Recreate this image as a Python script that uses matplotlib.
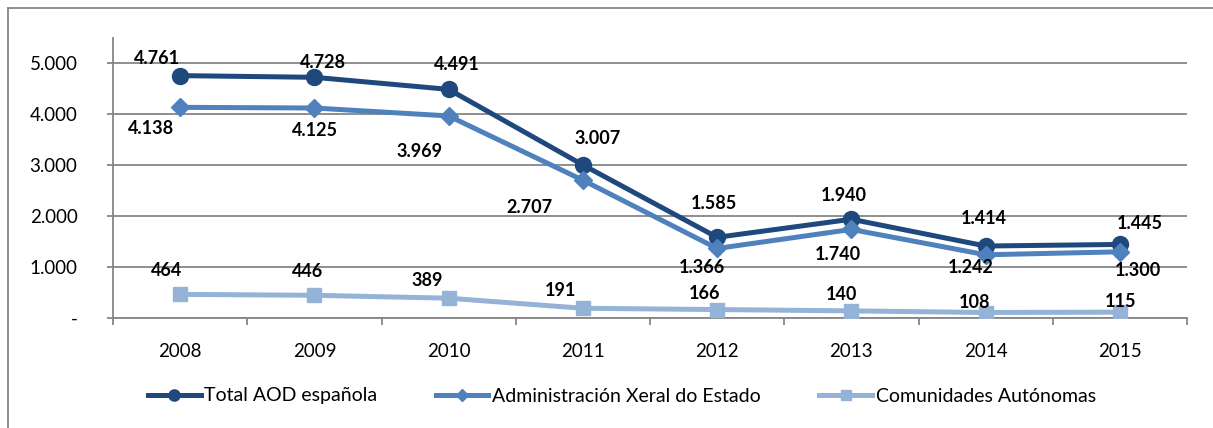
import matplotlib
matplotlib.use("Agg")
import matplotlib.pyplot as plt
from matplotlib.lines import Line2D

plt.rcParams['font.family'] = ['Lato', 'DejaVu Sans']

years = ["2008", "2009", "2010", "2011", "2012", "2013", "2014", "2015"]
total = [4761, 4728, 4491, 3007, 1585, 1940, 1414, 1445]
admin = [4138, 4125, 3969, 2707, 1366, 1740, 1242, 1300]
ccaa = [464, 446, 389, 191, 166, 140, 108, 115]

names = ["Total AOD española", "Administración Xeral do Estado", "Comunidades Autónomas"]
colors = ["#1F497D", "#4F81BD", "#95B3D7"]
markers = ["o", "D", "s"]
msizes = [11.5, 9, 10]

# label offsets in pixels (dx, dy)
off_total = [(-23, 17), (9, 15), (8, 25), (15, 26), (-3, 34), (-8, 24), (-2, 28), (20, 21)]
off_admin = [(-29, -21), (1, -22), (-29, -36), (-53, -27), (-15, -19), (-13, -25), (-15, -13), (18, -19)]
off_ccaa = [(-14, 24), (-7, 24), (-21, 18), (-22, 18), (-13, 16), (-10, 16), (-11, 10), (1, 11)]

def fmt(v):
    return f"{v:,}".replace(",", ".")

W, H = 1213, 428
fig = plt.figure(figsize=(W / 100, H / 100), dpi=100)
ax = fig.add_axes([113 / W, 1 - 318 / H, (1187 - 113) / W, (318 - 38) / H])

x = list(range(len(years)))
series = [total, admin, ccaa]
offsets = [off_total, off_admin, off_ccaa]
for s, c, m, ms, offs, n in zip(series, colors, markers, msizes, offsets, names):
    ax.plot(x, s, color=c, lw=3.6, marker=m, ms=ms, mec=c, mfc=c, label=n, zorder=3,
            solid_joinstyle='round')
    for xi, v, (dx, dy) in zip(x, s, offs):
        ax.annotate(fmt(v), (xi, v), xytext=(dx, dy), textcoords='offset pixels',
                    ha='center', va='center', fontsize=13, fontweight='bold', color='black',
                    zorder=4)

grid_c = "#868686"
ax.set_xlim(-0.5, len(years) - 0.5)
ax.set_ylim(0, 5500)
yt = [0, 1000, 2000, 3000, 4000, 5000]
ax.set_yticks(yt)
ax.set_yticklabels(["-" if v == 0 else fmt(v) for v in yt])
ax.yaxis.grid(True, color=grid_c, lw=1.3)
ax.set_axisbelow(True)
ax.set_xticks(x)
ax.set_xticklabels(years)
ax.set_xticks([i - 0.5 for i in range(len(years) + 1)], minor=True)
ax.tick_params(axis='x', which='major', length=0, pad=18, labelsize=13.5, colors='black')
ax.tick_params(axis='x', which='minor', length=5, width=1.3, color=grid_c)
ax.tick_params(axis='y', which='major', length=4.5, width=1.3, color=grid_c, pad=21, labelsize=13.5)
for sp in ['top', 'right']:
    ax.spines[sp].set_visible(False)
for sp in ['left', 'bottom']:
    ax.spines[sp].set_color(grid_c)
    ax.spines[sp].set_linewidth(1.3)

handles = [Line2D([], [], color=c, lw=3.6, marker=m, ms=ms * 0.7, mec=c, mfc=c)
           for c, m, ms in zip(colors, markers, msizes)]
fig.legend(handles, names, loc='center', bbox_to_anchor=(622 / W, 1 - 396 / H), ncol=3,
           frameon=False, fontsize=14, handlelength=2.7, handletextpad=0.2, columnspacing=3.0)

# outer frame
fig.add_artist(Line2D([8 / W, 1], [1 - 8 / H, 1 - 8 / H], transform=fig.transFigure, color=grid_c, lw=1.3))
fig.add_artist(Line2D([8 / W, 8 / W], [0, 1 - 8 / H], transform=fig.transFigure, color=grid_c, lw=1.3))

fig.savefig("out.png", dpi=100, facecolor='white')
